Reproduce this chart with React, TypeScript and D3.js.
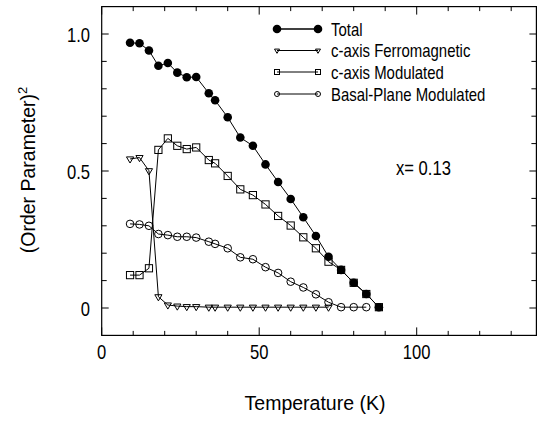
import React from 'react';
import * as d3 from 'd3';

// temperatures (K) of the measured points
const temps = [9, 12, 15, 18, 21, 24, 27, 30, 34, 36, 40, 44, 48, 52, 56, 60, 64, 68, 72, 76, 80, 84, 88];

const total = [0.968, 0.966, 0.94, 0.884, 0.894, 0.859, 0.842, 0.843, 0.784, 0.758, 0.696, 0.622, 0.592, 0.524, 0.46, 0.398, 0.331, 0.263, 0.187, 0.139, 0.092, 0.051, 0.003];
const ferro = [0.544, 0.549, 0.501, 0.041, 0.011, 0.007, 0.005, 0.005, 0.003, 0.003, 0.003, 0.003, 0.003, 0.003, 0.003, 0.003, 0.003, 0.003, 0.003];
const modulated = [0.12, 0.12, 0.145, 0.577, 0.619, 0.592, 0.58, 0.586, 0.54, 0.528, 0.482, 0.433, 0.412, 0.378, 0.336, 0.301, 0.258, 0.218, 0.169, 0.139, 0.092, 0.051, 0.003];
const basal = [0.307, 0.305, 0.3, 0.27, 0.266, 0.26, 0.26, 0.257, 0.242, 0.234, 0.218, 0.185, 0.178, 0.149, 0.128, 0.096, 0.075, 0.05, 0.021, 0.003, 0.003, 0.003];

const seriesNames = ['Total', 'c-axis Ferromagnetic', 'c-axis Modulated', 'Basal-Plane Modulated'];

const xTicks = [0, 10, 20, 30, 40, 50, 60, 70, 80, 90, 100, 110, 120, 130];
const xLabels = [0, 50, 100];
const yTicks = [0, 0.1, 0.2, 0.3, 0.4, 0.5, 0.6, 0.7, 0.8, 0.9, 1.0];
const yLabels = ['0', '0.5', '1.0'];

const W = 537;
const H = 422;
const left = 101.7;
const right = 536.4;
const top = 6.6;
const bottom = 335.4;

const x = d3.scaleLinear().domain([0, 138]).range([left, right]);
const y = d3.scaleLinear().domain([-0.1, 1.1]).range([bottom, top]);

const FONT = 'Liberation Sans, Arial, sans-serif';
const NARROW = 0.83;

type Pt = [number, number];
const pts = (vals: number[]): Pt[] => vals.map((v, i) => [temps[i], v]);

const line = d3.line<Pt>().x(d => x(d[0])).y(d => y(d[1]));

const Marker = ({ kind, cx, cy, s }: { kind: string; cx: number; cy: number; s: number }) => {
  if (kind === 'filled') return <circle cx={cx} cy={cy} r={s} fill="#000" />;
  if (kind === 'circle') return <circle cx={cx} cy={cy} r={s} fill="none" stroke="#000" strokeWidth={1} />;
  if (kind === 'square')
    return <rect x={cx - s} y={cy - s} width={2 * s} height={2 * s} fill="none" stroke="#000" strokeWidth={1} />;
  // downward triangle
  const h = s * 1.7;
  return (
    <path
      d={`M${cx - s},${cy - h / 3}L${cx + s},${cy - h / 3}L${cx},${cy + (2 * h) / 3}Z`}
      fill="none"
      stroke="#000"
      strokeWidth={1}
    />
  );
};

const Narrow = ({ x0, y0, anchor, size, children }: any) => (
  <text
    transform={`translate(${x0},${y0}) scale(${NARROW},1)`}
    textAnchor={anchor}
    fontSize={size}
    fontFamily={FONT}
    fill="#000"
  >
    {children}
  </text>
);

const series = [
  { vals: ferro, kind: 'triangle', size: 3.6 },
  { vals: basal, kind: 'circle', size: 3.8 },
  { vals: modulated, kind: 'square', size: 3.6 },
  { vals: total, kind: 'filled', size: 4.3 },
];

const legendKinds = ['filled', 'triangle', 'square', 'circle'];
const legendY = [29, 50.5, 72, 94];

export default function App() {
  return (
    <svg width={W} height={H} style={{ display: 'block', position: 'absolute', left: 0, top: 0, background: '#fff' }}>
      <rect width={W} height={H} fill="#fff" />
      {/* frame */}
      <rect x={left} y={top} width={right - left} height={bottom - top} fill="none" stroke="#000" strokeWidth={1.2} />
      {/* x ticks, bottom and top */}
      {xTicks.map(t => {
        const len = t % 50 === 0 ? 8 : 4.5;
        return (
          <g key={'xt' + t}>
            <line x1={x(t)} x2={x(t)} y1={bottom} y2={bottom - len} stroke="#000" />
            <line x1={x(t)} x2={x(t)} y1={top} y2={top + len} stroke="#000" />
          </g>
        );
      })}
      {/* y ticks, left and right */}
      {yTicks.map(t => {
        const len = Math.round(t * 10) % 5 === 0 ? 7 : 5;
        return (
          <g key={'yt' + t}>
            <line x1={left} x2={left + len} y1={y(t)} y2={y(t)} stroke="#000" />
            <line x1={right} x2={right - len} y1={y(t)} y2={y(t)} stroke="#000" />
          </g>
        );
      })}
      {xLabels.map(t => (
        <Narrow key={'xl' + t} x0={x(t)} y0={359} anchor="middle" size={20}>
          {t}
        </Narrow>
      ))}
      {yLabels.map(t => (
        <Narrow key={'yl' + t} x0={90} y0={y(+t) + 7.5} anchor="end" size={20}>
          {t}
        </Narrow>
      ))}
      <text x={315} y={410} textAnchor="middle" fontSize={19.5} fontFamily={FONT}>
        Temperature (K)
      </text>
      <text transform="translate(35,170) rotate(-90)" textAnchor="middle" fontSize={19.5} fontFamily={FONT}>
        (Order Parameter)
        <tspan fontSize={13} dy={-8}>2</tspan>
      </text>
      {/* data */}
      {series.map((s, i) => (
        <g key={'s' + i}>
          <path d={line(pts(s.vals)) || ''} fill="none" stroke="#000" strokeWidth={1} />
          {pts(s.vals).map((p, j) => (
            <Marker key={j} kind={s.kind} cx={x(p[0])} cy={y(p[1])} s={s.size} />
          ))}
        </g>
      ))}
      {/* legend */}
      {seriesNames.map((name, i) => (
        <g key={'lg' + i}>
          <line x1={277} x2={318} y1={legendY[i]} y2={legendY[i]} stroke="#000" strokeWidth={i === 0 ? 1.6 : 1} />
          <Marker kind={legendKinds[i]} cx={277} cy={legendY[i]} s={i === 0 ? 4.3 : 2.5} />
          <Marker kind={legendKinds[i]} cx={318} cy={legendY[i]} s={i === 0 ? 4.3 : 2.5} />
          <Narrow x0={331} y0={legendY[i] + 6.5} anchor="start" size={18}>
            {name}
          </Narrow>
        </g>
      ))}
      <Narrow x0={396} y0={175} anchor="start" size={20}>
        x= 0.13
      </Narrow>
    </svg>
  );
}
